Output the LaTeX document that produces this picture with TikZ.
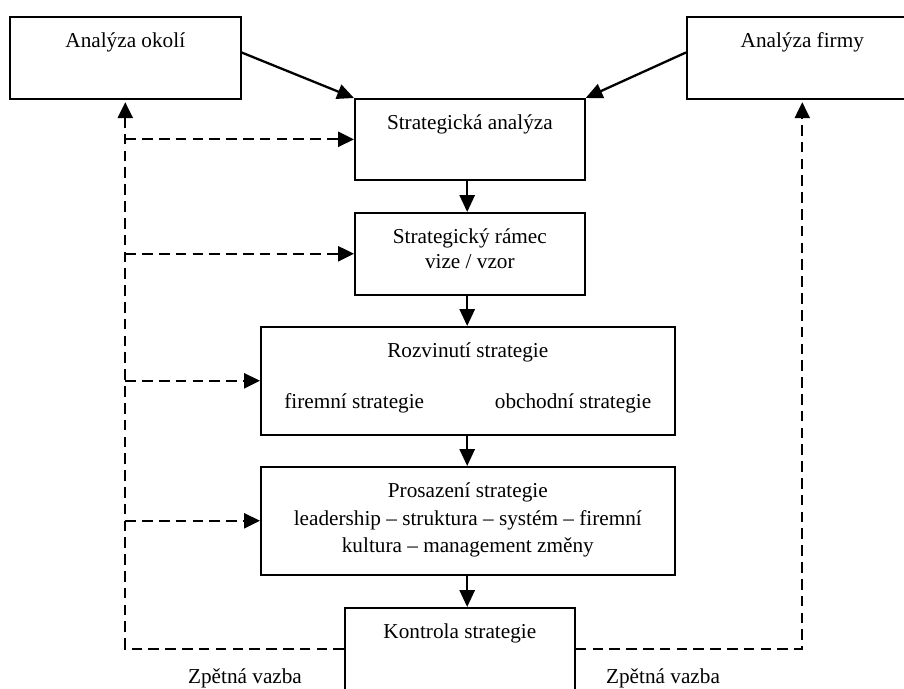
\documentclass[tikz,border=0pt]{standalone}
\usepackage{fontspec}
\setmainfont{Liberation Serif}
\usepackage{tikz}
\usetikzlibrary{arrows.meta}
\newcommand{\boxcontent}[3]{\parbox[c][#2][t]{#1}{\centering\vspace*{7.5pt}\strut #3}}

\begin{document}
\begin{tikzpicture}[x=0.565pt, y=-0.565pt, font=\fontsize{12}{14.2}\selectfont]
    % Define styles
    \tikzstyle{box} = [rectangle, draw, line width=0.9pt, anchor=north west, inner sep=0pt]
    \tikzstyle{arrow} = [line width=1.3pt, -{Triangle[length=9.5pt,width=8.5pt]}]
    \tikzstyle{feedback} = [line width=1.3pt, dash pattern=on 6pt off 3.5pt, -{Triangle[length=9pt,width=8.5pt]}]
    \useasboundingbox (0,0) rectangle (904,688);

    % Nodes
    \node [box] (okoli) at (9,16) {\boxcontent{130.5pt}{46.3pt}{Analýza okolí}};
    \node [box] (firmy) at (686,16) {\boxcontent{130.5pt}{46.3pt}{Analýza firmy}};
    \node [box] (analyza) at (354,98) {\boxcontent{130pt}{45.8pt}{Strategická analýza}};
    \node [box] (ramec) at (354,212) {\boxcontent{130pt}{46.3pt}{Strategický rámec\\ vize / vzor}};
    \node [box] (rozvinuti) at (260,326) {\boxcontent{233.9pt}{61pt}{Rozvinutí strategie\\[14.4pt] firemní strategie\hspace{40pt}obchodní strategie}};
    \node [box] (prosazeni) at (260,466) {\boxcontent{233.9pt}{61pt}{\baselineskip=15.5pt Prosazení strategie\\ leadership – struktura – systém – firemní\\ kultura – management změny}};
    \node [box] (kontrola) at (344,607) {\boxcontent{130pt}{46.3pt}{Kontrola strategie}};
    \node (vazba1) at (245,678) {Zpětná vazba};
    \node (vazba2) at (663,678) {Zpětná vazba};

    % Arrows
    \draw [arrow] ([yshift=3pt]okoli.east) -- (analyza.north west);
    \draw [arrow] ([yshift=3pt]firmy.west) -- (analyza.north east);
    \draw [arrow] ([xshift=-1.5pt]analyza.south) -- ([xshift=-1.5pt]analyza.south |- ramec.north);
    \draw [arrow] ([xshift=-1.5pt]analyza.south |- ramec.south) -- ([xshift=-1.5pt]analyza.south |- rozvinuti.north);
    \draw [arrow] ([xshift=-1.5pt]analyza.south |- rozvinuti.south) -- ([xshift=-1.5pt]analyza.south |- prosazeni.north);
    \draw [arrow] ([xshift=-1.5pt]analyza.south |- prosazeni.south) -- ([xshift=-1.5pt]analyza.south |- kontrola.north);

    % Feedback
    \draw [feedback, shorten >=1.5pt] (kontrola.west) -| (okoli.south);
    \draw [feedback, shorten >=1.5pt] (kontrola.east) -| (firmy.south);
    \draw [feedback] (okoli.south |- analyza.west) -- (analyza.west);
    \draw [feedback] (okoli.south |- ramec.west) -- (ramec.west);
    \draw [feedback] (okoli.south |- rozvinuti.west) -- (rozvinuti.west);
    \draw [feedback] (okoli.south |- prosazeni.west) -- (prosazeni.west);
\end{tikzpicture}
\end{document}
